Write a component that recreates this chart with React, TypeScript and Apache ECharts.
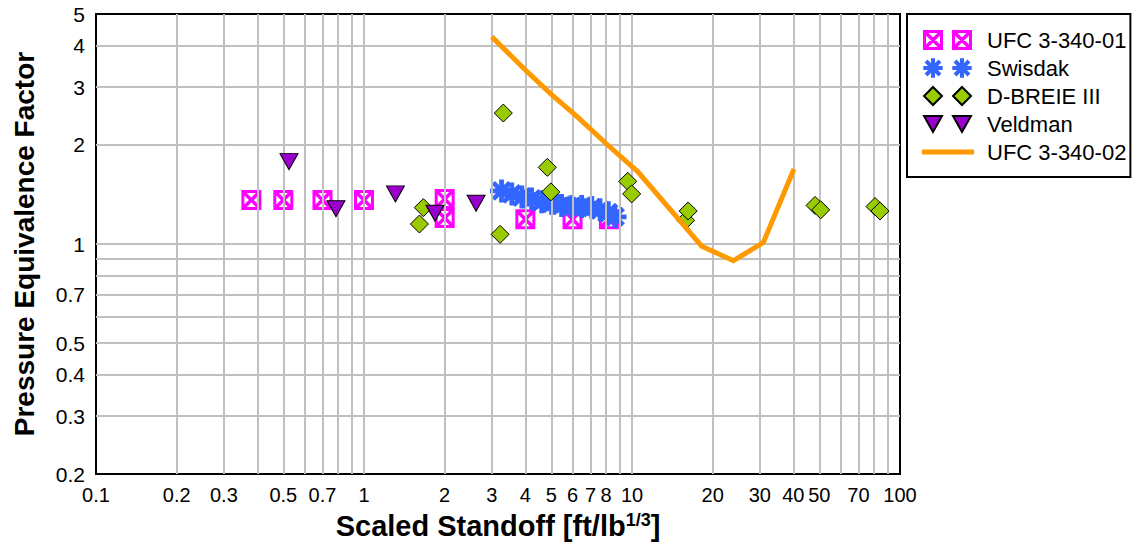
import React, { useEffect, useRef } from "react";
import * as echarts from "echarts";

// ---------- data ----------
const ufc01X = [0.38, 0.5, 0.7, 1.0, 2.0, 2.0, 4.0, 6.0, 8.2];
const ufc01Y = [1.36, 1.36, 1.36, 1.36, 1.37, 1.2, 1.19, 1.19, 1.19];

const swisdakX = [3.26, 3.56, 3.88, 4.22, 4.6, 5.01, 5.46, 5.96, 6.49, 7.08, 7.6, 8.16, 8.64];
const swisdakY = [1.45, 1.42, 1.39, 1.37, 1.345, 1.33, 1.31, 1.3, 1.3, 1.29, 1.27, 1.245, 1.21];

const dbreieX = [1.61, 1.665, 3.22, 3.31, 4.83, 4.98, 9.64, 9.97, 15.85, 16.2, 48.2, 50.6, 80.7, 84.2];
const dbreieY = [1.15, 1.29, 1.07, 2.5, 1.71, 1.44, 1.55, 1.42, 1.18, 1.26, 1.31, 1.27, 1.3, 1.26];

const veldmanX = [0.525, 0.786, 1.31, 1.84, 2.62];
const veldmanY = [1.78, 1.28, 1.42, 1.24, 1.33];

const ufc02X = [3, 4, 5, 6.3, 8, 10.5, 18.2, 23.9, 30.9, 40.2];
const ufc02Y = [4.26, 3.38, 2.85, 2.42, 2.02, 1.66, 0.985, 0.89, 1.01, 1.69];

const X_GRID = [0.2, 0.3, 0.4, 0.5, 0.6, 0.7, 0.8, 0.9, 1, 2, 3, 4, 5, 6, 7, 8, 9, 10, 20, 30, 40, 50, 60, 70, 80, 90];
const X_LABELS = [0.1, 0.2, 0.3, 0.5, 0.7, 1, 2, 3, 4, 5, 6, 7, 8, 10, 20, 30, 40, 50, 70, 100];
const Y_GRID = [0.3, 0.4, 0.5, 0.6, 0.7, 0.8, 0.9, 1, 2, 3, 4];
const Y_LABELS = [0.2, 0.3, 0.4, 0.5, 0.7, 1, 2, 3, 4, 5];

const SERIES_NAMES = ["UFC 3-340-01", "Swisdak", "D-BREIE III", "Veldman", "UFC 3-340-02"];

// ---------- marker shapes ----------
type Pt = [number, number];
const SQUARE: Pt[][] = [
  [[0, 0], [20, 0], [20, 20], [0, 20]],
  [[3, 3], [3, 17], [17, 17], [17, 3]],
  [[3, 3], [5.5, 3], [17, 14.5], [17, 17], [14.5, 17], [3, 5.5]],
  [[17, 3], [17, 5.5], [5.5, 17], [3, 17], [3, 14.5], [14.5, 3]],
];
const STAR: Pt[][] = [
  [[8.0, 0.3], [12.0, 0.3], [12.0, 19.7], [8.0, 19.7]],
  [[0.3, 8.0], [19.7, 8.0], [19.7, 12.0], [0.3, 12.0]],
  [[4.45, 1.6], [18.4, 15.55], [15.55, 18.4], [1.6, 4.45]],
  [[15.55, 1.6], [18.4, 4.45], [4.45, 18.4], [1.6, 15.55]],
];
const DIAMOND: Pt[][] = [[[10, 1], [19, 10], [10, 19], [1, 10]]];
const TRIANGLE: Pt[][] = [[[1, 2], [19, 2], [10, 18]]];

function polyPath(polys: Pt[][], dx: number, dy: number): string {
  return polys
    .map((p) => "M" + p.map(([x, y]) => `${(x + dx).toFixed(2)} ${(y + dy).toFixed(2)}`).join(" L") + " Z")
    .join(" ");
}
function single(polys: Pt[][]): string {
  return "path://" + polyPath(polys, 0, 0);
}
function pair(polys: Pt[][]): string {
  return "path://" + polyPath(polys, 1, 0) + " " + polyPath(polys, 30, 0) + " M0 0 L0 0 M52 20 L52 20";
}
const LINE_ICON = "path://M0 7.5 L52 7.5 L52 12.5 L0 12.5 Z M0 0 L0 0 M52 20 L52 20";

const FONT = "'Liberation Sans', Arial, Helvetica, sans-serif";

function zip(xs: number[], ys: number[]): number[][] {
  return xs.map((x, i) => [x, ys[i]]);
}

function gridMarkLines() {
  const xs = Array.from(new Set([...X_GRID, ...X_LABELS])).sort((a, b) => a - b);
  const ys = Array.from(new Set([...Y_GRID, ...Y_LABELS])).sort((a, b) => a - b);
  const data: any[] = [];
  xs.forEach((v) => {
    data.push({
      xAxis: v,
      lineStyle: { color: X_GRID.includes(v) ? "#C0C0C0" : "rgba(0,0,0,0)", width: 2, type: "solid" },
      label: {
        show: X_LABELS.includes(v),
        position: "start",
        formatter: String(v),
        distance: 11,
        fontSize: 20,
        color: "#000",
        fontFamily: FONT,
      },
    });
  });
  ys.forEach((v) => {
    data.push({
      yAxis: v,
      lineStyle: { color: Y_GRID.includes(v) ? "#C0C0C0" : "rgba(0,0,0,0)", width: 2, type: "solid" },
      label: {
        show: Y_LABELS.includes(v),
        position: "start",
        formatter: String(v),
        distance: 11,
        fontSize: 21,
        color: "#000",
        fontFamily: FONT,
      },
    });
  });
  return data;
}

export default function App() {
  const ref = useRef<HTMLDivElement>(null);
  useEffect(() => {
    if (!ref.current) return;
    const chart = echarts.init(ref.current, undefined, { renderer: "svg" });
    const option: any = {
      animation: false,
      textStyle: { fontFamily: FONT },
      grid: {
        left: 96,
        right: 232,
        top: 14,
        bottom: 72,
        show: true,
        borderColor: "#000",
        borderWidth: 2,
        backgroundColor: "transparent",
      },
      xAxis: {
        type: "log",
        logBase: 10,
        min: 0.1,
        max: 100,
        axisLine: { show: false },
        axisTick: { show: false },
        axisLabel: { show: false },
        splitLine: { show: false },
        name: "{t|Scaled Standoff [ft/lb}{s|1/3}{t|]}",
        nameLocation: "middle",
        nameGap: 37,
        nameTextStyle: {
          rich: {
            t: { fontSize: 29, fontWeight: "bold", fontFamily: FONT, color: "#000" },
            s: { fontSize: 18, fontWeight: "bold", fontFamily: FONT, color: "#000", verticalAlign: "top" },
          },
        },
      },
      yAxis: {
        type: "log",
        logBase: 10,
        min: 0.2,
        max: 5,
        axisLine: { show: false },
        axisTick: { show: false },
        axisLabel: { show: false },
        splitLine: { show: false },
        name: "Pressure Equivalence Factor",
        nameLocation: "middle",
        nameGap: 58,
        nameTextStyle: { fontSize: 28, fontWeight: "bold", fontFamily: FONT, color: "#000" },
      },
      legend: {
        orient: "vertical",
        left: 907,
        top: 14,
        padding: [15, 4, 14, 14],
        itemGap: 6,
        itemWidth: 52,
        itemHeight: 20,
        borderColor: "#000",
        borderWidth: 2,
        backgroundColor: "#fff",
        textStyle: { fontSize: 22, color: "#000", fontFamily: FONT, padding: [0, 0, 0, 8] },
        data: [
          { name: SERIES_NAMES[0], icon: pair(SQUARE) },
          { name: SERIES_NAMES[1], icon: pair(STAR) },
          { name: SERIES_NAMES[2], icon: pair(DIAMOND) },
          { name: SERIES_NAMES[3], icon: pair(TRIANGLE) },
          { name: SERIES_NAMES[4], icon: LINE_ICON, itemStyle: { color: "#FF9900", borderWidth: 0 } },
        ],
      },
      series: [
        {
          name: "grid",
          type: "line",
          data: [],
          z: 1,
          silent: true,
          markLine: {
            silent: true,
            symbol: ["none", "none"],
            animation: false,
            data: gridMarkLines(),
          },
        },
        {
          name: SERIES_NAMES[0],
          type: "scatter",
          z: 3,
          data: zip(ufc01X, ufc01Y),
          symbol: single(SQUARE),
          symbolSize: 20,
          itemStyle: { color: "#FF00FF", opacity: 1 },
        },
        {
          name: SERIES_NAMES[1],
          type: "scatter",
          z: 4,
          data: zip(swisdakX, swisdakY),
          symbol: single(STAR),
          symbolSize: 23,
          itemStyle: { color: "#3366FF", opacity: 1 },
        },
        {
          name: SERIES_NAMES[2],
          type: "scatter",
          z: 5,
          data: zip(dbreieX, dbreieY),
          symbol: "diamond",
          symbolSize: 18,
          itemStyle: { color: "#99CC00", borderColor: "#000", borderWidth: 1, opacity: 1 },
        },
        {
          name: SERIES_NAMES[4],
          type: "line",
          z: 6,
          data: zip(ufc02X, ufc02Y),
          showSymbol: false,
          symbol: "none",
          itemStyle: { color: "#FF9900" },
          lineStyle: { color: "#FF9900", width: 5, join: "miter" },
        },
        {
          name: SERIES_NAMES[3],
          type: "scatter",
          z: 7,
          data: zip(veldmanX, veldmanY),
          symbol: single(TRIANGLE),
          symbolSize: [18, 16],
          itemStyle: { color: "#9900CC", borderColor: "#000", borderWidth: 1, opacity: 1 },
        },
      ],
    };
    chart.setOption(option);
    return () => chart.dispose();
  }, []);
  return <div ref={ref} style={{ width: 1132, height: 546, position: "absolute", left: 0, top: 0 }} />;
}
